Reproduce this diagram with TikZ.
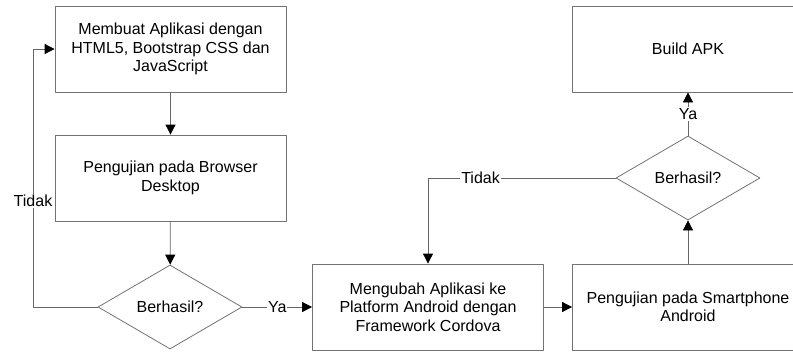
\documentclass[tikz,border=0pt]{standalone}
\usepackage{fontspec}
\setmainfont{Liberation Sans}
\usetikzlibrary{arrows.meta,shapes.geometric}

\tikzset{
  proses/.style={draw=black!55,line width=0.8pt,minimum width=231pt,minimum height=86pt,
    align=center,inner sep=0pt,font=\fontsize{16}{18.5}\selectfont},
  keputusan/.style={draw=black!55,line width=0.8pt,diamond,aspect=1.71,minimum width=144pt,
    minimum height=84pt,inner sep=0pt,font=\fontsize{16}{18.5}\selectfont},
  alur/.style={draw=black!60,line width=0.8pt,-{Triangle[width=10pt,length=10pt,color=black]}},
  ket/.style={fill=white,inner sep=1pt,font=\fontsize{16}{18}\selectfont}
}

\begin{document}
\begin{tikzpicture}[x=1pt,y=-1pt,line cap=round,line join=round]
  \clip (0,0) rectangle (793,354);
  \fill[white] (0,0) rectangle (793,354);

  \node[proses] (buat) at (170.5,49) {Membuat Aplikasi dengan\\HTML5, Bootstrap CSS dan\\JavaScript};
  \node[proses] (uji1) at (170.5,178) {Pengujian pada Browser\\Desktop};
  \node[keputusan] (cek1) at (170,307) {Berhasil?};
  \node[proses] (ubah) at (428,307) {Mengubah Aplikasi ke\\Platform Android dengan\\Framework Cordova};
  \node[proses] (uji2) at (688,307) {Pengujian pada Smartphone\\Android};
  \node[keputusan] (cek2) at (688,178) {Berhasil?};
  \node[proses] (apk) at (688,49) {Build APK};

  \coordinate (kiri1) at (33,307);
  \coordinate (kiri2) at (33,49);
  \coordinate (atas1) at (428,178);

  \draw[alur] (buat) -- (uji1);
  \draw[alur] (uji1) -- (cek1);
  \draw[alur] (cek1.west) -- (kiri1) -- node[ket,pos=0.41] {Tidak} (kiri2) -- (buat.west);
  \draw[alur] (cek1.east) -- node[ket] {Ya} (ubah.west);
  \draw[alur] (ubah) -- (uji2);
  \draw[alur] (uji2) -- (cek2);
  \draw[alur] (cek2.west) -- node[ket,pos=0.72] {Tidak} (atas1) -- (ubah.north);
  \draw[alur] (cek2.north) -- node[ket] {Ya} (apk.south);
\end{tikzpicture}
\end{document}
